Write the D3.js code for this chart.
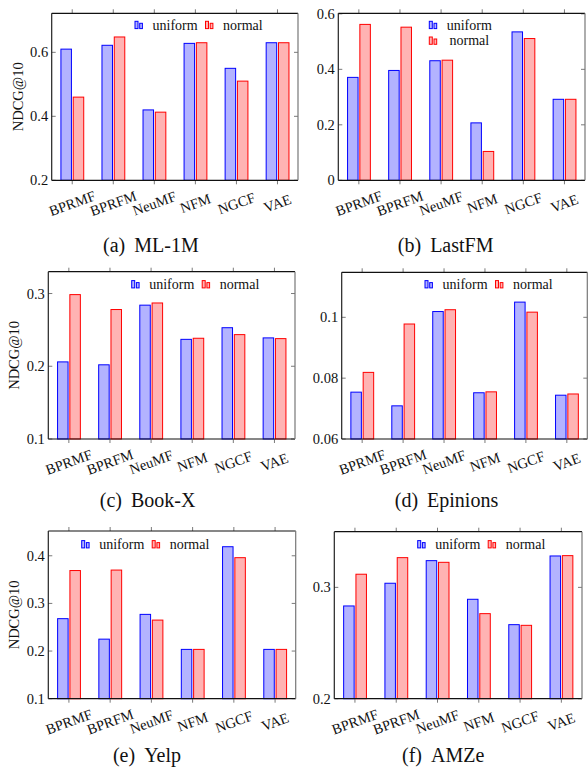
<!DOCTYPE html>
<html>
<head>
<meta charset="utf-8">
<script src="https://cdn.jsdelivr.net/npm/d3@7/dist/d3.min.js"></script>
<style>
  html, body { margin: 0; padding: 0; background: #fff; }
  svg { display: block; }
  text { font-family: "Liberation Serif", "Times New Roman", serif; fill: #111; }
</style>
</head>
<body>
<svg id="chart" width="588" height="776"></svg>
<script>
// ---------- data ----------
const categories = ["BPRMF", "BPRFM", "NeuMF", "NFM", "NGCF", "VAE"];
const seriesNames = ["uniform", "normal"];

const ml1mUniform    = [0.610, 0.622, 0.420, 0.628, 0.550, 0.630];
const ml1mNormal     = [0.460, 0.648, 0.413, 0.630, 0.510, 0.630];
const lastfmUniform  = [0.371, 0.396, 0.431, 0.207, 0.535, 0.292];
const lastfmNormal   = [0.562, 0.552, 0.433, 0.104, 0.511, 0.292];
const bookxUniform   = [0.206, 0.202, 0.284, 0.237, 0.253, 0.239];
const bookxNormal    = [0.2985, 0.278, 0.287, 0.2385, 0.2435, 0.238];
const epinionsUniform= [0.0754, 0.0709, 0.1019, 0.0752, 0.1050, 0.0744];
const epinionsNormal = [0.0819, 0.0978, 0.1025, 0.0755, 0.1017, 0.0748];
const yelpUniform    = [0.268, 0.225, 0.277, 0.2035, 0.419, 0.2035];
const yelpNormal     = [0.369, 0.370, 0.265, 0.2035, 0.396, 0.2035];
const amzeUniform    = [0.2833, 0.3037, 0.324, 0.2893, 0.2665, 0.3282];
const amzeNormal     = [0.3118, 0.3267, 0.3225, 0.2764, 0.2659, 0.3285];

const ml1mTicks     = [0.2, 0.4, 0.6];
const lastfmTicks   = [0, 0.2, 0.4, 0.6];
const bookxTicks    = [0.1, 0.2, 0.3];
const epinionsTicks = [0.06, 0.08, 0.1];
const yelpTicks     = [0.1, 0.2, 0.3, 0.4];
const amzeTicks     = [0.2, 0.3];

const ml1mDomain     = [0.2, 0.722];
const lastfmDomain   = [0, 0.602];
const bookxDomain    = [0.1, 0.330];
const epinionsDomain = [0.06, 0.1148];
const yelpDomain     = [0.1, 0.452];
const amzeDomain     = [0.2, 0.350];

const captions = ["(a)", "(b)", "(c)", "(d)", "(e)", "(f)"];
const datasetNames = ["ML-1M", "LastFM", "Book-X", "Epinions", "Yelp", "AMZe"];
const yLabel = "NDCG@10";

// ---------- layout ----------
const panels = [
  { u: ml1mUniform, n: ml1mNormal, ticks: ml1mTicks, domain: ml1mDomain,
    box: [51.7, 13.3, 298, 180.3], ylab: true, legend: { mode: "h", dx: 83.3, dy: 11.7 }, capDx: -24, capY: 252 },
  { u: lastfmUniform, n: lastfmNormal, ticks: lastfmTicks, domain: lastfmDomain,
    box: [338.3, 13.3, 585, 180.3], ylab: false, legend: { mode: "v", dx: 91, dy: 11.7 }, capDx: -16, capY: 252 },
  { u: bookxUniform, n: bookxNormal, ticks: bookxTicks, domain: bookxDomain,
    box: [48.3, 271.7, 295, 439], ylab: true, legend: { mode: "h", dx: 83.4, dy: 12.6 }, capDx: -24, capY: 507 },
  { u: epinionsUniform, n: epinionsNormal, ticks: epinionsTicks, domain: epinionsDomain,
    box: [341.7, 272.3, 587.3, 439], ylab: false, legend: { mode: "h", dx: 83.3, dy: 12 }, capDx: -18, capY: 507 },
  { u: yelpUniform, n: yelpNormal, ticks: yelpTicks, domain: yelpDomain,
    box: [48.3, 531, 295.7, 698.7], ylab: true, legend: { mode: "h", dx: 33.4, dy: 13.3 }, capDx: -25, capY: 762 },
  { u: amzeUniform, n: amzeNormal, ticks: amzeTicks, domain: amzeDomain,
    box: [334.3, 531.7, 582, 698.7], ylab: false, legend: { mode: "h", dx: 83.4, dy: 12.6 }, capDx: -15, capY: 762 }
];

const colors = {
  uniform: { fill: "#b3b3ff", stroke: "#0000ff" },
  normal:  { fill: "#ffb3b3", stroke: "#ff0000" }
};
const barW = 10.5;
const barOffset = { uniform: -11.3, normal: 1.0 };
const tickColor = "#7a7a7a";
const tickLen = 4;
const fontSize = 14.5;

const svg = d3.select("#chart");

function fmt(v) { return String(+v.toFixed(4)); }

panels.forEach((p, i) => {
  const [x0, y0, x1, y1] = p.box;
  const g = svg.append("g");

  const x = d3.scalePoint().domain(categories).range([x0, x1]).padding(0.5);
  const y = d3.scaleLinear().domain(p.domain).range([y1, y0]);

  // bars
  const rows = categories.map((c, k) => ({ c, uniform: p.u[k], normal: p.n[k] }));
  seriesNames.forEach(s => {
    g.append("g").selectAll("rect").data(rows).join("rect")
      .attr("x", d => x(d.c) + barOffset[s])
      .attr("y", d => y(d[s]))
      .attr("width", barW)
      .attr("height", d => y(p.domain[0]) - y(d[s]))
      .attr("fill", colors[s].fill)
      .attr("stroke", colors[s].stroke)
      .attr("stroke-width", 1);
  });

  // y ticks (inward, both sides)
  const yt = g.append("g");
  p.ticks.forEach(t => {
    const yy = y(t);
    yt.append("line").attr("x1", x0).attr("x2", x0 + tickLen).attr("y1", yy).attr("y2", yy)
      .attr("stroke", tickColor).attr("stroke-width", 1);
    yt.append("line").attr("x1", x1).attr("x2", x1 - tickLen).attr("y1", yy).attr("y2", yy)
      .attr("stroke", tickColor).attr("stroke-width", 1);
    yt.append("text").attr("x", x0 - 3.5).attr("y", yy).attr("text-anchor", "end")
      .attr("dominant-baseline", "central").attr("font-size", fontSize).text(fmt(t));
  });

  // x ticks (outward, top and bottom) + labels
  categories.forEach(c => {
    const xx = x(c);
    g.append("line").attr("x1", xx).attr("x2", xx).attr("y1", y0).attr("y2", y0 - tickLen)
      .attr("stroke", tickColor).attr("stroke-width", 1);
    g.append("line").attr("x1", xx).attr("x2", xx).attr("y1", y1).attr("y2", y1 + tickLen)
      .attr("stroke", tickColor).attr("stroke-width", 1);
    g.append("text").attr("transform", `translate(${xx},${y1 + 23}) rotate(-20)`)
      .attr("text-anchor", "middle").attr("dominant-baseline", "central")
      .attr("font-size", fontSize).text(c);
  });

  // frame
  g.append("line").attr("x1", x0).attr("x2", x1).attr("y1", y0).attr("y2", y0).attr("stroke", "#111").attr("stroke-width", 1.2);
  g.append("line").attr("x1", x0).attr("x2", x1).attr("y1", y1).attr("y2", y1).attr("stroke", "#111").attr("stroke-width", 1.2);
  g.append("line").attr("x1", x0).attr("x2", x0).attr("y1", y0).attr("y2", y1).attr("stroke", "#222").attr("stroke-width", 1.2);
  g.append("line").attr("x1", x1).attr("x2", x1).attr("y1", y0).attr("y2", y1).attr("stroke", "#777").attr("stroke-width", 1.2);

  // y label
  if (p.ylab) {
    g.append("text").attr("transform", `translate(${x0 - 34},${(y0 + y1) / 2}) rotate(-90)`)
      .attr("text-anchor", "middle").attr("dominant-baseline", "central")
      .attr("font-size", fontSize).text(yLabel);
  }

  // legend
  function icon(gx, gy, s) {
    const col = colors[s];
    g.append("rect").attr("x", gx).attr("y", gy - 3.7).attr("width", 3).attr("height", 7.3)
      .attr("fill", col.fill).attr("stroke", col.stroke).attr("stroke-width", 1);
    g.append("rect").attr("x", gx + 4.7).attr("y", gy - 1.7).attr("width", 2.7).attr("height", 5.3)
      .attr("fill", col.fill).attr("stroke", col.stroke).attr("stroke-width", 1);
  }
  const L = p.legend;
  if (L.mode === "h") {
    const lx = x0 + L.dx, ly = y0 + L.dy;
    seriesNames.forEach((s, k) => {
      const ox = lx + k * 70.5;
      icon(ox, ly, s);
      g.append("text").attr("x", ox + 17.5).attr("y", ly).attr("dominant-baseline", "central")
        .attr("font-size", 14).text(s);
    });
  } else {
    const lx = x0 + L.dx;
    seriesNames.forEach((s, k) => {
      const ly = y0 + L.dy + k * 15.7;
      icon(lx, ly, s);
      g.append("text").attr("x", lx + 40).attr("y", ly).attr("text-anchor", "middle")
        .attr("dominant-baseline", "central").attr("font-size", 14).text(s);
    });
  }

  // caption
  const cx = (x0 + x1) / 2 + p.capDx;
  const cap = g.append("text").attr("x", cx).attr("y", p.capY).attr("text-anchor", "middle")
    .attr("font-size", 20);
  cap.append("tspan").text(captions[i]);
  cap.append("tspan").attr("dx", 9).text(datasetNames[i]);
});
</script>
</body>
</html>
